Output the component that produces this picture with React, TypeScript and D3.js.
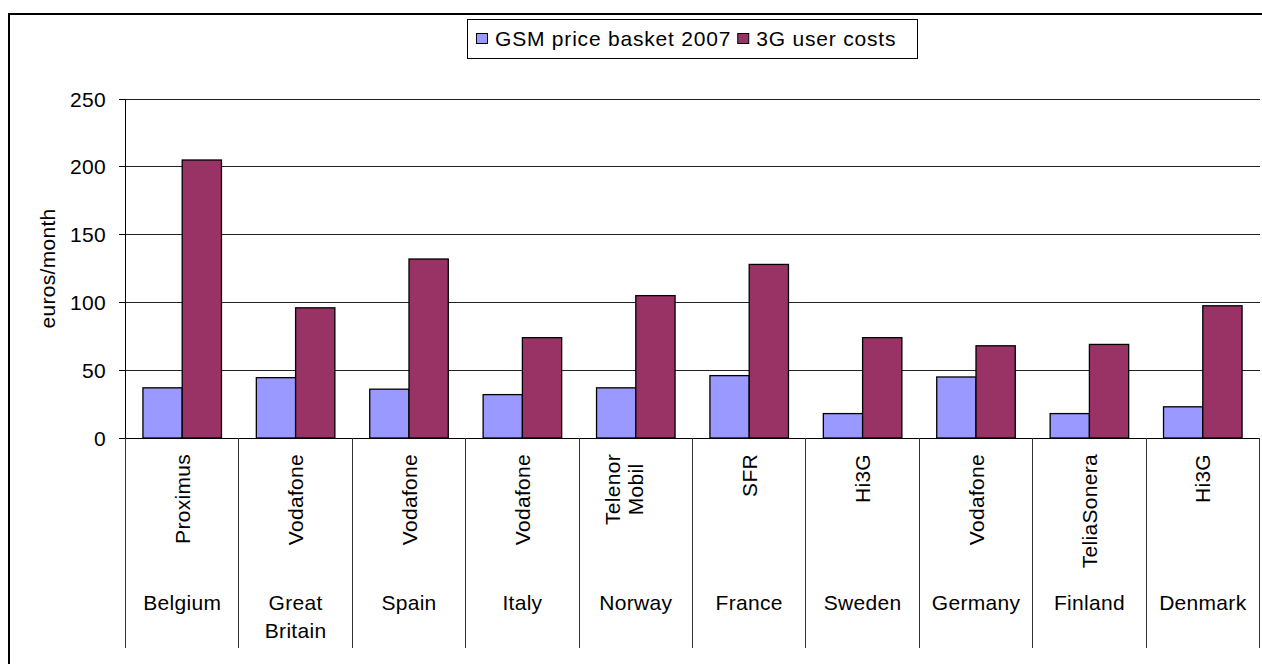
import React, { useEffect, useRef } from 'react';
import * as d3 from 'd3';

// chart data
const countries: string[][] = [
  ['Belgium'], ['Great', 'Britain'], ['Spain'], ['Italy'], ['Norway'],
  ['France'], ['Sweden'], ['Germany'], ['Finland'], ['Denmark'],
];
const operators: string[][] = [
  ['Proximus'], ['Vodafone'], ['Vodafone'], ['Vodafone'], ['Telenor', 'Mobil'],
  ['SFR'], ['Hi3G'], ['Vodafone'], ['TeliaSonera'], ['Hi3G'],
];
const gsmBasket: number[] = [37, 44.5, 36, 32, 37, 46, 18, 45, 18, 23];
const userCosts3g: number[] = [205, 96, 132, 74, 105, 128, 74, 68, 69, 97.5];
const seriesNames: string[] = ['GSM price basket 2007', '3G user costs'];
const seriesColors: string[] = ['#9999FF', '#993366'];
const yTicks: number[] = [0, 50, 100, 150, 200, 250];
const yTitle = 'euros/month';

const W = 1262;
const H = 664;
const FONT = 'Arial, "Liberation Sans", sans-serif';
const FS = 21;
const LS = '0.3px';

export default function App() {
  const svgRef = useRef<SVGSVGElement>(null);

  useEffect(() => {
    if (!svgRef.current) return;
    const svg = d3.select(svgRef.current);
    svg.selectAll('*').remove();

    const left = 125.5;
    const right = 1259.5;
    const top = 99;
    const bottom = 438;
    const catBottom = 648;

    const keys = countries.map((c) => c.join(' '));
    const x0 = d3.scaleBand<string>().domain(keys).range([left, right]).padding(0);
    const x1 = d3.scaleBand<string>().domain(seriesNames).range([0, x0.bandwidth()])
      .paddingInner(0).paddingOuter(0.444);
    const y = d3.scaleLinear().domain([0, 250]).range([bottom, top]);

    const txt = (sel: any) => sel
      .style('font-family', FONT).style('font-size', `${FS}px`).style('letter-spacing', LS)
      .attr('fill', '#000');

    // outer frame
    svg.append('rect')
      .attr('x', 9).attr('y', 14).attr('width', W).attr('height', H)
      .attr('fill', 'none').attr('stroke', '#000').attr('stroke-width', 2);

    // gridlines
    svg.append('g').selectAll('line').data(yTicks.filter((t) => t > 0)).join('line')
      .attr('x1', left).attr('x2', right)
      .attr('y1', (d) => y(d)).attr('y2', (d) => y(d))
      .attr('stroke', '#222').attr('stroke-width', 1).attr('shape-rendering', 'crispEdges');

    // y axis
    const ya = svg.append('g');
    ya.append('line').attr('x1', left).attr('x2', left).attr('y1', top).attr('y2', catBottom)
      .attr('stroke', '#000').attr('shape-rendering', 'crispEdges');
    ya.selectAll('line.tick').data(yTicks).join('line').attr('class', 'tick')
      .attr('x1', left - 7).attr('x2', left)
      .attr('y1', (d) => y(d)).attr('y2', (d) => y(d))
      .attr('stroke', '#000').attr('shape-rendering', 'crispEdges');
    ya.selectAll('text').data(yTicks).join('text')
      .attr('x', 106).attr('y', (d) => y(d) + 7.5)
      .attr('text-anchor', 'end')
      .call(txt)
      .text((d) => d3.format('d')(d));

    svg.append('text')
      .attr('transform', `translate(55,${(top + bottom) / 2}) rotate(-90)`)
      .attr('text-anchor', 'middle')
      .call(txt)
      .text(yTitle);

    // bars
    const series = [gsmBasket, userCosts3g];
    const groups = svg.append('g').selectAll('g').data(keys).join('g')
      .attr('transform', (d) => `translate(${x0(d)},0)`);
    groups.selectAll('rect')
      .data((_, i) => series.map((s, j) => ({ name: seriesNames[j], value: s[i], color: seriesColors[j] })))
      .join('rect')
      .attr('x', (d) => x1(d.name) as number)
      .attr('width', x1.bandwidth())
      .attr('y', (d) => y(d.value))
      .attr('height', (d) => bottom - y(d.value))
      .attr('fill', (d) => d.color)
      .attr('stroke', '#000').attr('stroke-width', 1.3);

    // baseline over bars
    svg.append('line').attr('x1', left).attr('x2', right).attr('y1', bottom).attr('y2', bottom)
      .attr('stroke', '#000').attr('shape-rendering', 'crispEdges');

    // category dividers
    const bounds = keys.map((k) => x0(k) as number).concat([right]);
    svg.append('g').selectAll('line').data(bounds).join('line')
      .attr('x1', (d) => d).attr('x2', (d) => d)
      .attr('y1', bottom).attr('y2', catBottom)
      .attr('stroke', '#333').attr('shape-rendering', 'crispEdges');

    // operator labels (rotated)
    const opTop = 454;
    keys.forEach((k, i) => {
      const cx = (x0(k) as number) + x0.bandwidth() / 2;
      const lines = operators[i];
      const first = svg.append('text')
        .attr('transform', `translate(${cx + 7.5 - (lines.length - 1) * 23},${opTop}) rotate(-90)`)
        .attr('text-anchor', 'end')
        .call(txt)
        .text(lines[0]);
      const len = (first.node() as SVGTextElement).getComputedTextLength();
      lines.slice(1).forEach((ln, j) => {
        svg.append('text')
          .attr('transform', `translate(${cx + 7.5 - (lines.length - 2 - j) * 23},${opTop + len / 2}) rotate(-90)`)
          .attr('text-anchor', 'middle')
          .call(txt)
          .text(ln);
      });
    });

    // country labels
    keys.forEach((k, i) => {
      const cx = (x0(k) as number) + x0.bandwidth() / 2;
      countries[i].forEach((ln, j) => {
        svg.append('text')
          .attr('x', cx).attr('y', 610 + j * 28)
          .attr('text-anchor', 'middle')
          .call(txt)
          .text(ln);
      });
    });

    // legend
    const lg = svg.append('g');
    lg.append('rect').attr('x', 467.5).attr('y', 19.5).attr('width', 450).attr('height', 39)
      .attr('fill', '#fff').attr('stroke', '#000');
    let cursor = 476;
    seriesNames.forEach((name, i) => {
      lg.append('rect').attr('x', cursor + 0.5).attr('y', 33.5).attr('width', 11).attr('height', 10)
        .attr('fill', seriesColors[i]).attr('stroke', '#000');
      const t = lg.append('text').attr('x', cursor + 19).attr('y', 46)
        .call(txt)
        .style('letter-spacing', '0.8px')
        .text(name);
      cursor += 19 + (t.node() as SVGTextElement).getComputedTextLength() + 6;
    });
  }, []);

  return (
    <svg ref={svgRef} width={W} height={H}
      style={{ position: 'absolute', left: 0, top: 0, background: '#fff' }} />
  );
}
